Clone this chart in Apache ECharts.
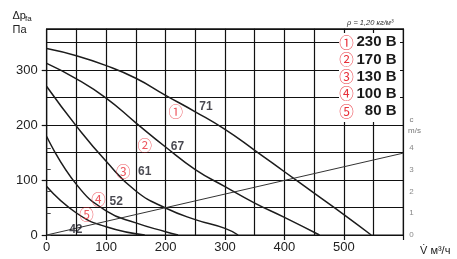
<!DOCTYPE html>
<html><head><meta charset="utf-8">
<script src="https://cdn.jsdelivr.net/npm/echarts@6/dist/echarts.min.js"></script>
<style>html,body{margin:0;padding:0;background:#fff}#c{width:457px;height:259px}</style>
</head><body><div id="c"></div>
<script>
// ---- data ----
const xTickValues = [0, 100, 200, 300, 400, 500];
const yTickValues = [0, 100, 200, 300];
const cTickValues = [0, 1, 2, 3, 4];
const curve230 = [[0,339],[50,326],[100,308],[150,285],[200,254],[250,224],[300,192],[350,154],[400,115],[450,76],[500,37],[546,0]];
const curve170 = [[0,312],[50,284],[100,249],[150,204],[200,160],[250,119],[300,88],[350,58],[400,32],[459,0]];
const curve130 = [[0,270],[50,198],[100,134],[150,80],[200,49],[250,28],[300,12],[322,0]];
const curve100 = [[0,179],[50,92],[100,44],[150,22],[200,6],[221,0]];
const curve80  = [[0,88],[50,40],[100,15],[165,0]];
const velocity = [[0,0],[600,3.76]];           // c, m/s
const voltages = ['230 В','170 В','130 В','100 В','80 В'];
const circled = ['①','②','③','④','⑤'];
const noise = ['71','67','61','52','42'];
// annotation anchors (data coordinates)
const noiseAnchor = [[268,233],[220,161],[165,115],[117,61],[49,10]];
const circledAnchor = [[217,224],[165,163],[129,116],[87,65],[67,37]];

const FONT = 'Liberation Sans, Arial, sans-serif';
const CJK = 'Noto Sans CJK JP, DejaVu Sans, sans-serif';
const curves = [curve230, curve170, curve130, curve100, curve80];

const chart = echarts.init(document.getElementById('c'), null, {renderer:'canvas'});
const gridLine = {show:true, lineStyle:{color:'#111', width:1.2}};

const option = {
  animation:false,
  backgroundColor:'#fff',
  grid:{left:46.7, right:53.7, top:28.75, bottom:24, show:true, borderColor:'#111', borderWidth:1.2, backgroundColor:'transparent'},
  xAxis:[
    {type:'value', min:0, max:600, interval:50, position:'bottom',
     axisLine:{show:false}, axisTick:{show:false}, splitLine:gridLine,
     axisLabel:{margin:6, fontSize:13, color:'#222', fontFamily:FONT,
       formatter:v => xTickValues.includes(v) ? String(v) : ''}},
    {type:'value', min:0, max:600, interval:100, position:'bottom',
     axisLine:{show:false}, splitLine:{show:false}, axisLabel:{show:false},
     axisTick:{show:true, length:5, lineStyle:{color:'#111', width:1.2}, customValues:[0,100,200,300,400,500,600]}}
  ],
  yAxis:[
    {type:'value', min:0, max:375, interval:50, position:'left',
     axisLine:{show:false}, axisTick:{show:false}, splitLine:gridLine,
     axisLabel:{margin:9, fontSize:13, color:'#222', fontFamily:FONT,
       formatter:v => yTickValues.includes(v) ? String(v) : ''}},
    {type:'value', min:0, max:9.47, interval:1, position:'right',
     axisLine:{show:false}, splitLine:{show:false},
     axisTick:{show:true, length:4, lineStyle:{color:'#444', width:1}, customValues:cTickValues},
     axisLabel:{margin:6, fontSize:8, color:'#888', fontFamily:FONT, customValues:cTickValues,
       formatter:v => cTickValues.includes(v) ? String(v) : ''}},
    {type:'value', min:0, max:375, interval:100, position:'left',
     axisLine:{show:false}, splitLine:{show:false}, axisLabel:{show:false},
     axisTick:{show:true, length:5, lineStyle:{color:'#111', width:1.2}, customValues:yTickValues}}
  ],
  series:[
    ...curves.map(d => ({type:'line', data:d, xAxisIndex:0, yAxisIndex:0, showSymbol:false, smooth:0.5,
      silent:true, z:3, lineStyle:{color:'#1c1c1c', width:1.5}})),
    {type:'line', data:velocity, xAxisIndex:0, yAxisIndex:1, showSymbol:false, silent:true, z:3,
      lineStyle:{color:'#333', width:1}},
    {type:'scatter', xAxisIndex:0, yAxisIndex:0, symbolSize:0, silent:true, z:5,
      data:noiseAnchor.map((p,i)=>({value:p, name:noise[i]})),
      label:{show:true, position:'inside', formatter:p=>p.name, fontSize:12, fontWeight:'bold', color:'#1a1a24', fontFamily:FONT}},
    {type:'scatter', xAxisIndex:0, yAxisIndex:0, symbolSize:0, silent:true, z:5,
      data:circledAnchor.map((p,i)=>({value:p, name:circled[i]})),
      label:{show:true, position:'inside', formatter:p=>p.name, fontSize:14.5, color:'#e8303a', fontFamily:CJK}}
  ],
  graphic:[
    {type:'rect', shape:{x:339, y:33, width:61, height:89}, style:{fill:'#fff'}, z:50, silent:true},
    ...voltages.map((t,i)=>({type:'text', z:51, silent:true,
      style:{text:t, x:396.5, y:42.3 + i*17.2, textAlign:'right', textVerticalAlign:'middle', align:'right', verticalAlign:'middle',
        font:'bold 15px ' + FONT, fill:'#1a1a1a'}})),
    ...circled.map((t,i)=>({type:'text', z:51, silent:true,
      style:{text:t, x:346.5, y:42.3 + i*17.2, textAlign:'center', textVerticalAlign:'middle', align:'center', verticalAlign:'middle',
        font:'14.5px ' + CJK, fill:'#e8303a'}})),
    {type:'text', z:51, silent:true, style:{text:'ρ = 1,20 кг/м³', x:347, y:23, textVerticalAlign:'middle', verticalAlign:'middle',
        font:'italic 7.5px ' + FONT, fill:'#333'}},
    {type:'text', silent:true, style:{text:'Δp', x:12.5, y:16, textVerticalAlign:'middle', verticalAlign:'middle', font:'11px ' + FONT, fill:'#222'}},
    {type:'text', silent:true, style:{text:'fa', x:25, y:18.5, textVerticalAlign:'middle', verticalAlign:'middle', font:'8px ' + FONT, fill:'#222'}},
    {type:'text', silent:true, style:{text:'Па', x:12.5, y:29.5, textVerticalAlign:'middle', verticalAlign:'middle', font:'11px ' + FONT, fill:'#222'}},
    {type:'text', silent:true, style:{text:'c', x:409.5, y:120, textVerticalAlign:'middle', verticalAlign:'middle', font:'8px ' + FONT, fill:'#777'}},
    {type:'text', silent:true, style:{text:'m/s', x:408, y:131, textVerticalAlign:'middle', verticalAlign:'middle', font:'8px ' + FONT, fill:'#777'}},
    {type:'text', silent:true, style:{text:'V̇ м³/ч', x:420, y:250.5, textVerticalAlign:'middle', verticalAlign:'middle', font:'11px ' + FONT, fill:'#222'}}
  ]
};
chart.setOption(option);
</script>
</body></html>
